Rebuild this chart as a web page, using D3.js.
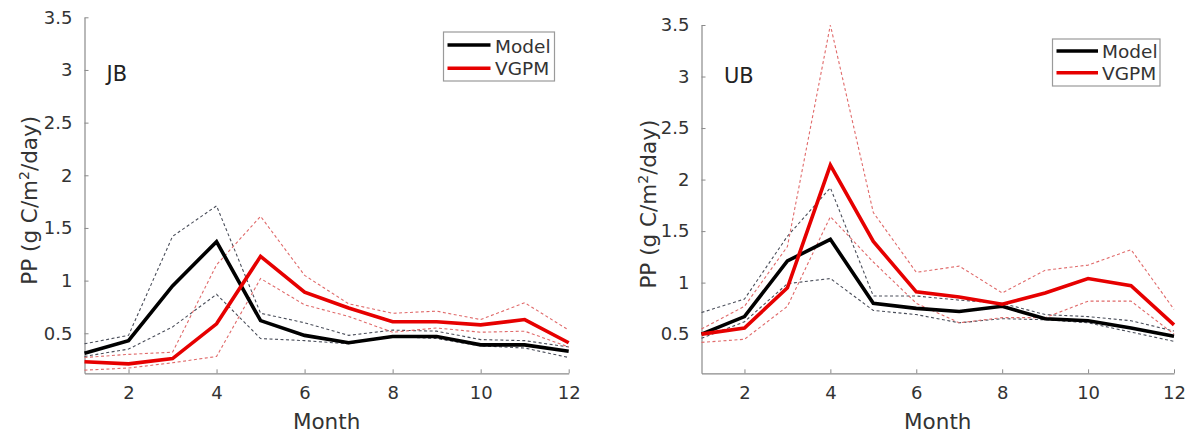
<!DOCTYPE html>
<html>
<head>
<meta charset="utf-8">
<script src="https://cdn.jsdelivr.net/npm/d3@7"></script>
<style>
  html, body { margin: 0; padding: 0; background: #fff; }
  svg { display: block; font-family: "DejaVu Sans", sans-serif; }
</style>
</head>
<body>
<svg id="chart" width="1197" height="435"></svg>
<script>
// ---- data ----
const months = [1, 2, 3, 4, 5, 6, 7, 8, 9, 10, 11, 12];
const xTicks = [2, 4, 6, 8, 10, 12];
const yTicks = [0.5, 1, 1.5, 2, 2.5, 3, 3.5];
const seriesNames = ["Model", "VGPM"];
const panelNames = ["JB", "UB"];

// JB panel
const jbModel    = [0.31, 0.43, 0.95, 1.37, 0.62, 0.48, 0.41, 0.47, 0.47, 0.39, 0.39, 0.33];
const jbModelHi  = [0.40, 0.48, 1.42, 1.71, 0.69, 0.60, 0.48, 0.53, 0.52, 0.44, 0.43, 0.37];
const jbModelLo  = [0.28, 0.35, 0.56, 0.87, 0.45, 0.43, 0.40, 0.47, 0.45, 0.38, 0.36, 0.27];
const jbVgpm     = [0.23, 0.21, 0.26, 0.59, 1.23, 0.89, 0.74, 0.61, 0.61, 0.58, 0.63, 0.41];
const jbVgpmHi   = [0.27, 0.30, 0.32, 1.15, 1.61, 1.05, 0.78, 0.69, 0.71, 0.63, 0.79, 0.53];
const jbVgpmLo   = [0.15, 0.17, 0.22, 0.28, 1.02, 0.77, 0.66, 0.51, 0.55, 0.51, 0.52, 0.37];

// UB panel
const ubModel    = [0.50, 0.67, 1.21, 1.42, 0.80, 0.75, 0.72, 0.77, 0.65, 0.63, 0.56, 0.48];
const ubModelHi  = [0.71, 0.84, 1.45, 1.92, 0.87, 0.87, 0.83, 0.80, 0.69, 0.67, 0.63, 0.53];
const ubModelLo  = [0.46, 0.62, 0.99, 1.04, 0.73, 0.69, 0.61, 0.65, 0.64, 0.61, 0.52, 0.43];
const ubVgpm     = [0.50, 0.56, 0.95, 2.14, 1.40, 0.91, 0.86, 0.79, 0.90, 1.04, 0.97, 0.59];
const ubVgpmHi   = [0.55, 0.77, 1.35, 3.50, 1.68, 1.10, 1.16, 0.90, 1.12, 1.17, 1.32, 0.74];
const ubVgpmLo   = [0.42, 0.45, 0.77, 1.64, 1.20, 0.80, 0.61, 0.66, 0.66, 0.82, 0.82, 0.50];

// ---- layout ----
const colModel = "#000000";
const colVgpm = "#e60000";
const colModelDash = "#4a4e5a";
const colVgpmDash = "#e06a6a";
const textCol = "#333333";
const axisCol = "#8a8a8a";

const panels = [
  { name: panelNames[0], model: jbModel, modelHi: jbModelHi, modelLo: jbModelLo,
    vgpm: jbVgpm, vgpmHi: jbVgpmHi, vgpmLo: jbVgpmLo,
    x0: 84.5, x1: 568.7, yTop: 17.3, yBot: 373.3,
    ylabX: 37, labelX: 106.5, labelY: 80.7,
    legend: { x: 443.5, y: 32, w: 111, h: 49, l0: 447.5, l1: 490.5, ly: [45, 68.3], tx: 495, ty: [52.5, 75] } },
  { name: panelNames[1], model: ubModel, modelHi: ubModelHi, modelLo: ubModelLo,
    vgpm: ubVgpm, vgpmHi: ubVgpmHi, vgpmLo: ubVgpmLo,
    x0: 701.5, x1: 1174, yTop: 25, yBot: 373.3,
    ylabX: 656, labelX: 724, labelY: 83,
    legend: { x: 1052.5, y: 39, w: 107.5, h: 47, l0: 1056.5, l1: 1098, ly: [51, 72.7], tx: 1102, ty: [58.3, 80] } }
];

const svg = d3.select("#chart");

panels.forEach(p => {
  const x = d3.scaleLinear().domain([1, 12]).range([p.x0, p.x1]);
  const y = d3.scaleLinear().domain([0.12, 3.5]).range([p.yBot, p.yTop]);
  const g = svg.append("g");

  // axes
  const xAxis = d3.axisBottom(x).tickValues(xTicks).tickSizeInner(-4).tickSizeOuter(0).tickPadding(13);
  const yAxis = d3.axisLeft(y).tickValues(yTicks).tickSizeInner(-4).tickSizeOuter(0).tickPadding(12)
    .tickFormat(d3.format("~g"));

  const gx = g.append("g").attr("transform", `translate(0,${p.yBot})`).call(xAxis);
  const gy = g.append("g").attr("transform", `translate(${p.x0},0)`).call(yAxis);
  [gx, gy].forEach(a => {
    a.select(".domain").attr("stroke", axisCol).attr("stroke-width", 1.2);
    a.selectAll(".tick line").attr("stroke", axisCol).attr("stroke-width", 1);
    a.selectAll(".tick text").attr("fill", textCol).attr("font-size", 18)
      .attr("font-family", "DejaVu Sans, sans-serif");
  });
  gx.selectAll(".tick text").attr("dy", "0.71em");

  // axis labels
  g.append("text")
    .attr("x", (p.x0 + p.x1) / 2).attr("y", 429)
    .attr("text-anchor", "middle").attr("font-size", 21.5).attr("fill", textCol)
    .text("Month");
  const yl = g.append("text")
    .attr("transform", `translate(${p.ylabX},${(p.yTop + p.yBot) / 2 + 5}) rotate(-90)`)
    .attr("text-anchor", "middle").attr("font-size", 21.5).attr("fill", textCol);
  yl.append("tspan").text("PP (g C/m");
  yl.append("tspan").attr("font-size", 14).attr("dy", -8).text("2");
  yl.append("tspan").attr("dy", 8).text("/day)");

  // panel label
  g.append("text").attr("x", p.labelX).attr("y", p.labelY)
    .attr("font-size", 21).attr("fill", "#222").text(p.name);

  const line = d3.line().x((d, i) => x(months[i])).y(d => y(d));

  // dashed envelopes
  const dashed = [
    [p.modelHi, colModelDash], [p.modelLo, colModelDash],
    [p.vgpmHi, colVgpmDash], [p.vgpmLo, colVgpmDash]
  ];
  dashed.forEach(([vals, c]) => {
    g.append("path").datum(vals).attr("d", line)
      .attr("fill", "none").attr("stroke", c).attr("stroke-width", 1.1)
      .attr("stroke-dasharray", "3,2.5");
  });

  // main lines
  g.append("path").datum(p.model).attr("d", line)
    .attr("fill", "none").attr("stroke", colModel).attr("stroke-width", 3.6)
    .attr("stroke-linejoin", "miter");
  g.append("path").datum(p.vgpm).attr("d", line)
    .attr("fill", "none").attr("stroke", colVgpm).attr("stroke-width", 3.6)
    .attr("stroke-linejoin", "miter");

  // legend
  const L = p.legend;
  const lg = g.append("g");
  lg.append("rect").attr("x", L.x).attr("y", L.y).attr("width", L.w).attr("height", L.h)
    .attr("fill", "#fff").attr("stroke", "#9a9a9a").attr("stroke-width", 1.2);
  [colModel, colVgpm].forEach((c, i) => {
    lg.append("line").attr("x1", L.l0).attr("x2", L.l1).attr("y1", L.ly[i]).attr("y2", L.ly[i])
      .attr("stroke", c).attr("stroke-width", 3.6);
    lg.append("text").attr("x", L.tx).attr("y", L.ty[i])
      .attr("font-size", 18.5).attr("fill", textCol).text(seriesNames[i]);
  });
});
</script>
</body>
</html>
